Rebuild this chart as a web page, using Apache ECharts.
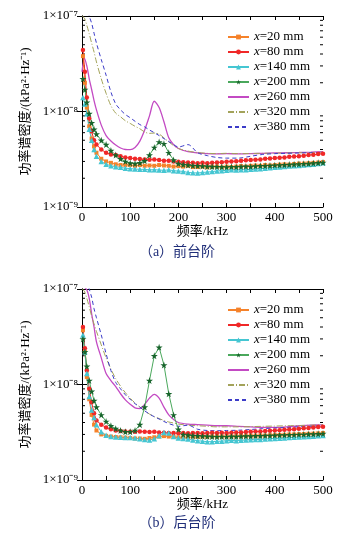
<!DOCTYPE html>
<html>
  <head>
    <meta charset="utf-8" />
    <title>功率谱密度</title>
    <script src="https://cdn.jsdelivr.net/npm/echarts@6/dist/echarts.min.js"></script>
    <style>
      body { margin: 0; background: #fff; }
      #main { width: 355px; height: 534px; }
    </style>
  </head>
  <body>
    <div id="main"></div>
    <script type="text/javascript">
      // frequency (kHz); PSD values are in units of 1e-9 kPa^2/Hz
      var freqDense = [2, 6, 10, 15, 20, 25, 30, 40, 50, 60, 70, 80, 90, 100, 110, 120, 130, 140, 150, 160,
        170, 180, 190, 200, 210, 220, 230, 240, 250, 260, 270, 280, 290, 300, 310, 320, 330, 340, 350, 360,
        370, 380, 390, 400, 410, 420, 430, 440, 450, 460, 470, 480, 490, 500];
      var freqSparse = [0, 5, 10, 15, 20, 25, 30, 40, 50, 60, 70, 80, 90, 100, 110, 120, 130, 140, 150, 160,
        170, 180, 190, 200, 220, 240, 260, 280, 300, 325, 350, 375, 400, 425, 450, 475, 500];

      var names = ["x=20 mm", "x=80 mm", "x=140 mm", "x=200 mm", "x=260 mm", "x=320 mm", "x=380 mm"];
      var yTickLabels = { "-9": "1×10⁻⁹", "-8": "1×10⁻⁸", "-7": "1×10⁻⁷" };
      var minorTicks = [2, 3, 4, 5, 6, 7, 8, 9, 20, 30, 40, 50, 60, 70, 80, 90];

      // (a) front step
      var a20 = [38, 20, 11, 7.0, 5.2, 4.3, 3.7,
        3.2, 3.0, 2.9, 2.8, 2.75, 2.75, 2.75, 2.7, 2.75, 2.7,
        2.72, 2.7, 2.75, 2.72, 2.7, 2.65, 2.68, 2.65, 2.7, 2.62,
        2.62, 2.65, 2.6, 2.62, 2.65, 2.6, 2.65, 2.62, 2.65, 2.68,
        2.65, 2.7, 2.72, 2.7, 2.75, 2.72, 2.75, 2.78, 2.8, 2.78,
        2.82, 2.85, 2.85, 2.88, 2.9, 2.92, 2.95];
      var a80 = [44, 26, 14, 8.5, 6.2, 5.0, 4.5,
        4.0, 3.7, 3.55, 3.5, 3.4, 3.3, 3.25, 3.2, 3.18, 3.15,
        3.12, 3.15, 3.1, 3.05, 3.05, 3.0, 2.98, 2.95, 2.92, 2.9,
        2.88, 2.9, 2.87, 2.9, 2.92, 2.95, 2.98, 3.0, 3.02, 3.05,
        3.08, 3.1, 3.12, 3.15, 3.2, 3.22, 3.25, 3.28, 3.3, 3.35,
        3.38, 3.4, 3.45, 3.5, 3.52, 3.58, 3.62];
      var a140 = [14, 12, 9.5, 6.5, 5.0, 4.0, 3.4,
        3.0, 2.8, 2.7, 2.64, 2.6, 2.55, 2.52, 2.5, 2.48, 2.48,
        2.45, 2.46, 2.44, 2.42, 2.45, 2.4, 2.38, 2.36, 2.3, 2.28,
        2.27, 2.3, 2.32, 2.35, 2.38, 2.4, 2.42, 2.45, 2.44, 2.46,
        2.45, 2.48, 2.5, 2.52, 2.55, 2.58, 2.6, 2.62, 2.65, 2.68,
        2.7, 2.72, 2.75, 2.78, 2.8, 2.85, 2.9];
      var a200 = [22, 17, 12.5, 9.5, 7.6, 6.5, 5.8,
        5.0, 4.5, 3.9, 3.5, 3.2, 3.0, 2.88, 2.85, 2.9, 3.05,
        3.5, 4.2, 4.8, 4.6, 3.7, 3.1, 2.85, 2.78, 2.75, 2.72,
        2.7, 2.68, 2.66, 2.65, 2.64, 2.63, 2.62, 2.64, 2.63, 2.65,
        2.66, 2.65, 2.68, 2.7, 2.7, 2.72, 2.74, 2.75, 2.76, 2.78,
        2.8, 2.82, 2.84, 2.85, 2.88, 2.9, 2.92];
      var a260 = [26, 36, 30, 22, 17, 13, 10.4,
        7.2, 5.6, 4.9, 4.45, 4.15, 4.0, 3.98, 4.2, 4.9, 6.4, 9.0, 12.8, 11.0, 7.8, 5.3, 4.5, 4.1,
        3.8, 3.68, 3.62, 3.6, 3.62,
        3.6, 3.62, 3.65, 3.68, 3.7, 3.72, 3.75, 3.8];
      var a320 = [100, 95, 80, 65, 52, 42, 33,
        22, 15.5, 11.5, 9.6, 8.8, 8.0, 7.5, 7.0, 6.6, 6.1, 5.9, 5.95, 5.8, 5.3, 4.8, 4.4, 4.1,
        3.85, 3.72, 3.65, 3.62, 3.65,
        3.62, 3.63, 3.65, 3.66, 3.68, 3.7, 3.72, 3.75];
      var a380 = [180, 150, 125, 100, 84, 66, 52,
        35, 24, 16, 12, 10.4, 9.3, 8.6, 7.9, 7.3, 6.9, 6.4, 6.0, 5.6, 5.2, 4.85, 4.5, 4.25,
        4.5, 3.7, 3.45, 3.3, 3.25,
        3.25, 3.4, 3.55, 3.62, 3.65, 3.68, 3.7, 3.72];

      // (b) back step
      var b20 = [37, 22, 12, 7.0, 4.8, 3.8, 3.3,
        3.0, 2.9, 2.85, 2.82, 2.8, 2.78, 2.75, 2.72, 2.72, 2.7,
        2.75, 2.8, 2.85, 2.88, 2.85, 2.82, 2.8, 2.8, 2.82, 2.8,
        2.82, 2.84, 2.83, 2.85, 2.84, 2.85, 2.86, 2.85, 2.87, 2.88,
        2.88, 2.9, 2.9, 2.92, 2.92, 2.94, 2.95, 2.96, 2.98, 3.0,
        3.0, 3.02, 3.03, 3.05, 3.06, 3.08, 3.1];
      var b80 = [40, 24, 14, 9.0, 6.5, 5.0, 4.2,
        3.8, 3.55, 3.4, 3.3, 3.25, 3.22, 3.2, 3.2, 3.22, 3.2,
        3.18, 3.2, 3.15, 3.12, 3.1, 3.1, 3.08, 3.1, 3.08, 3.1,
        3.1, 3.08, 3.1, 3.12, 3.1, 3.12, 3.1, 3.12, 3.15, 3.15,
        3.18, 3.2, 3.22, 3.22, 3.25, 3.28, 3.3, 3.32, 3.35, 3.38,
        3.4, 3.45, 3.48, 3.5, 3.55, 3.58, 3.62];
      var b140 = [33, 22, 13, 7.5, 5.4, 4.5, 3.8,
        3.2, 2.95, 2.85, 2.82, 2.8, 2.78, 2.78, 2.75, 2.7, 2.65,
        2.62, 2.7, 2.9, 3.15, 3.1, 2.85, 2.75, 2.72, 2.68, 2.62,
        2.58, 2.55, 2.52, 2.52, 2.54, 2.55, 2.58, 2.6, 2.58, 2.6,
        2.62, 2.64, 2.65, 2.66, 2.68, 2.7, 2.72, 2.74, 2.75, 2.78,
        2.8, 2.82, 2.84, 2.86, 2.88, 2.9, 2.92];
      var b200 = [30, 22, 15.5, 11, 8.5, 6.8, 5.8,
        4.8, 4.1, 3.7, 3.45, 3.3, 3.2, 3.2, 3.3, 3.8, 5.8,
        11, 20, 24.5, 16, 8.0, 4.8, 3.4, 3.0, 2.95, 2.92,
        2.9, 2.88, 2.86, 2.85, 2.84, 2.85, 2.84, 2.86, 2.85, 2.87,
        2.88, 2.88, 2.9, 2.9, 2.92, 2.92, 2.94, 2.95, 2.96, 2.97,
        2.98, 3.0, 3.0, 3.02, 3.03, 3.05, 3.06];
      var b260 = [120, 105, 98, 80, 55, 40, 28,
        19, 13, 11, 9.5, 8.0, 6.9, 6.2, 5.7, 5.6, 6.2, 7.2, 7.9, 7.2, 5.8, 4.8, 4.3, 4.0,
        3.85, 3.8, 3.75, 3.7, 3.7,
        3.65, 3.6, 3.55, 3.55, 3.6, 3.7, 3.75, 3.78];
      var b320 = [100, 95, 80, 65, 52, 43, 36,
        26, 19, 14.5, 11.5, 9.6, 8.2, 7.2, 6.4, 5.8, 5.3, 4.9, 4.6, 4.4, 4.2, 4.05, 3.95, 3.85,
        3.75, 3.7, 3.65, 3.6, 3.6,
        3.6, 3.62, 3.65, 3.67, 3.7, 3.72, 3.75, 3.78];
      var b380 = [200, 160, 125, 100, 82, 62, 50,
        33, 21, 14, 10.5, 9.0, 7.8, 7.0, 6.3, 5.8, 5.3, 4.9, 4.6, 4.35, 4.1, 3.9, 3.75, 3.65,
        3.75, 3.4, 3.3, 3.28, 3.3,
        3.32, 3.38, 3.45, 3.5, 3.55, 3.6, 3.65, 3.68];

      var FONT = "Liberation Serif, 'Noto Sans CJK SC', serif";
      var STAR = "path://M50,0 L61,35 L98,35 L68,57 L79,91 L50,70 L21,91 L32,57 L2,35 L39,35 Z";

      function pairs(xs, ys) {
        return xs.map(function (x, i) { return [x, ys[i]]; });
      }

      var styles = [
        { color: "#f5822a", symbol: "rect", size: 4 },
        { color: "#f02828", symbol: "circle", size: 4.5 },
        { color: "#45c6d2", symbol: "triangle", size: 5.5 },
        { color: "#4aa85c", marker: "#17642b", symbol: STAR, size: 7 },
        { color: "#c34ac3", symbol: "none", width: 1.3 },
        { color: "#a3a35a", symbol: "none", type: [6, 2, 1, 2] },
        { color: "#3c3cc8", symbol: "none", type: [4, 3] }
      ];

      function makeSeries(gi, sets) {
        return sets.map(function (ys, k) {
          var st = styles[k];
          var dense = k < 4;
          return {
            name: names[k],
            type: "line",
            xAxisIndex: gi * 2,
            yAxisIndex: gi * 2,
            data: pairs(dense ? freqDense : freqSparse, ys),
            smooth: dense ? false : 0.3,
            symbol: st.symbol,
            symbolSize: st.size || 0,
            showSymbol: st.symbol !== "none",
            itemStyle: { color: st.marker || st.color },
            lineStyle: { color: st.color, width: st.width || 1, type: st.type || "solid" },
            z: dense ? 3 : 2,
            animation: false
          };
        });
      }

      function minorTickSeries(gi) {
        return {
          type: "custom",
          xAxisIndex: gi * 2,
          yAxisIndex: gi * 2,
          silent: true,
          clip: false,
          animation: false,
          data: minorTicks.map(function (v) { return [0, v]; }),
          renderItem: function (params, api) {
            var v = api.value(1);
            var l = api.coord([0, v]);
            var r = api.coord([500, v]);
            var st = { stroke: "#000", lineWidth: 1 };
            return {
              type: "group",
              children: [
                { type: "line", shape: { x1: l[0], y1: l[1], x2: l[0] + 3, y2: l[1] }, style: st },
                { type: "line", shape: { x1: r[0], y1: r[1], x2: r[0] - 3, y2: r[1] }, style: st }
              ]
            };
          }
        };
      }

      var grids = [
        { left: 82, top: 16, width: 241, height: 191 },
        { left: 82, top: 289, width: 241, height: 191 }
      ];

      var xAxes = [];
      var yAxes = [];
      [0, 1].forEach(function (gi) {
        xAxes.push({
          type: "value", gridIndex: gi, min: 0, max: 500, interval: 100, position: "bottom",
          name: "频率/kHz", nameLocation: "middle", nameGap: 16,
          nameTextStyle: { fontFamily: FONT, fontSize: 13, color: "#000" },
          axisLine: { lineStyle: { color: "#000", width: 1 } },
          axisTick: { inside: true, length: 4, lineStyle: { color: "#000" } },
          minorTick: { show: true, splitNumber: 2, length: 4, lineStyle: { color: "#000" } },
          splitLine: { show: false },
          axisLabel: { fontFamily: FONT, fontSize: 13, color: "#000", margin: 4 }
        });
        xAxes.push({
          type: "value", gridIndex: gi, min: 0, max: 500, interval: 100, position: "top",
          axisLine: { lineStyle: { color: "#000", width: 1 } },
          axisTick: { inside: true, length: 4, lineStyle: { color: "#000" } },
          minorTick: { show: true, splitNumber: 2, length: 4, lineStyle: { color: "#000" } },
          splitLine: { show: false },
          axisLabel: { show: false }
        });
        yAxes.push({
          type: "log", logBase: 10, gridIndex: gi, min: 1, max: 100, position: "left",
          name: "功率谱密度/(kPa²·Hz⁻¹)", nameLocation: "middle", nameGap: 33, nameRotate: 90,
          nameTextStyle: { fontFamily: FONT, fontSize: 13, color: "#000" },
          axisLine: { show: true, lineStyle: { color: "#000", width: 1 } },
          axisTick: { inside: true, length: 5, lineStyle: { color: "#000" } },
          splitLine: { show: false },
          axisLabel: {
            fontFamily: FONT, fontSize: 13, color: "#000", margin: 4,
            formatter: function (v) {
              return yTickLabels[String(Math.round(Math.log10(v)) - 9)] || "";
            }
          }
        });
        yAxes.push({
          type: "log", logBase: 10, gridIndex: gi, min: 1, max: 100, position: "right",
          axisLine: { show: true, lineStyle: { color: "#000", width: 1 } },
          axisTick: { inside: true, length: 5, lineStyle: { color: "#000" } },
          splitLine: { show: false },
          axisLabel: { show: false }
        });
      });

      // line-only entries get an invisible marker in the legend
      var legendData = names.map(function (n, k) {
        return styles[k].symbol === "none"
          ? { name: n, itemStyle: { opacity: 0 } }
          : { name: n };
      });

      function legendFor(top) {
        return {
          orient: "vertical",
          left: 222,
          top: top,
          itemWidth: 21,
          itemHeight: 6,
          itemGap: 1,
          data: legendData,
          formatter: function (n) { return "{i|x}" + n.slice(1); },
          textStyle: {
            fontFamily: FONT, fontSize: 13, color: "#000", lineHeight: 14,
            rich: { i: { fontFamily: FONT, fontSize: 13, fontStyle: "italic", lineHeight: 14 } }
          }
        };
      }

      var myChart = echarts.init(document.getElementById("main"));
      var option = {
        animation: false,
        grid: grids,
        xAxis: xAxes,
        yAxis: yAxes,
        legend: [legendFor(25), legendFor(298)],
        title: [
          { text: "（a）前台阶", left: 172, top: 240, textAlign: "center",
            textStyle: { fontFamily: FONT, fontSize: 14, fontWeight: "normal", color: "#22307a" } },
          { text: "（b）后台阶", left: 172, top: 511, textAlign: "center",
            textStyle: { fontFamily: FONT, fontSize: 14, fontWeight: "normal", color: "#22307a" } }
        ],
        series: []
          .concat(makeSeries(0, [a20, a80, a140, a200, a260, a320, a380]))
          .concat(makeSeries(1, [b20, b80, b140, b200, b260, b320, b380]))
          .concat([minorTickSeries(0), minorTickSeries(1)])
      };
      myChart.setOption(option);
    </script>
  </body>
</html>
